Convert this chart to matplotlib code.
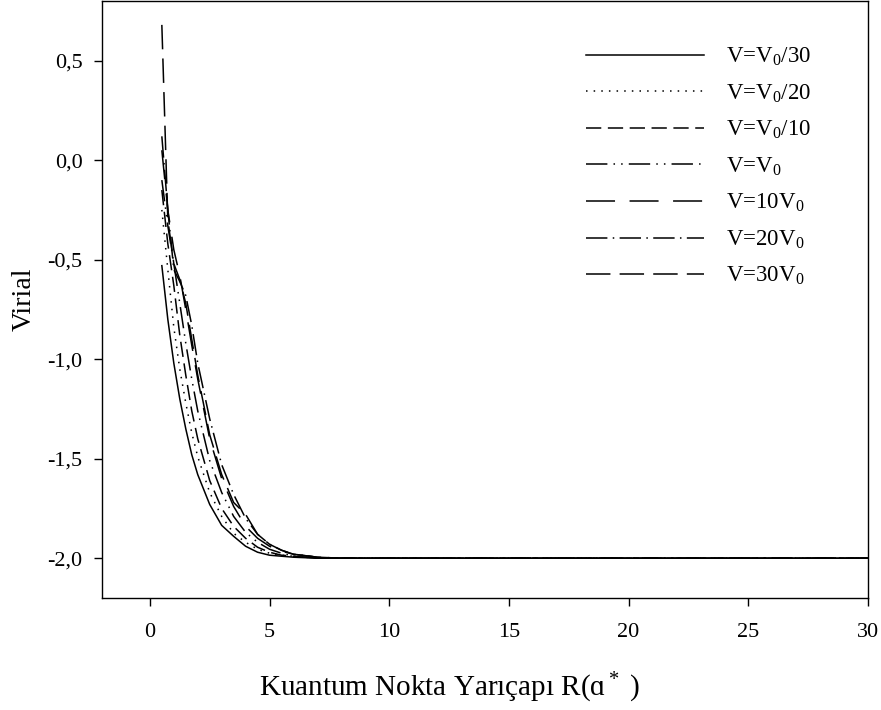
import matplotlib
matplotlib.use('Agg')
import matplotlib.pyplot as plt
import numpy as np

plt.rcParams['font.family'] = ['Liberation Serif', 'DejaVu Sans']
plt.rcParams['mathtext.fontset'] = 'custom'
plt.rcParams['mathtext.rm'] = 'Liberation Serif'
plt.rcParams['mathtext.it'] = 'Liberation Serif:italic'

# radius R (a*) and virial values
r_a = [0.5, 0.75, 1.0, 1.25, 1.5, 1.75, 2.0, 2.5, 3.0, 3.5, 4.0, 4.5, 5.0, 5.5, 6.0, 7.0, 8.0, 10, 15, 20, 25, 30]
v_30th = [-0.53, -0.80, -1.02, -1.20, -1.35, -1.48, -1.58, -1.73, -1.835, -1.89, -1.94, -1.97, -1.985, -1.99, -1.995, -2.0, -2.0, -2.0, -2.0, -2.0, -2.0, -2.0]
v_20th = [-0.25, -0.55, -0.84, -1.05, -1.22, -1.37, -1.49, -1.67, -1.79, -1.875, -1.92, -1.955, -1.975, -1.985, -1.99, -1.998, -2.0, -2.0, -2.0, -2.0, -2.0, -2.0]
v_10th = [-0.15, -0.42, -0.63, -0.88, -1.08, -1.26, -1.40, -1.61, -1.75, -1.84, -1.90, -1.945, -1.97, -1.985, -1.99, -2.0, -2.0, -2.0, -2.0, -2.0, -2.0, -2.0]
v_1 = [-0.10, -0.33, -0.52, -0.72, -0.92, -1.10, -1.26, -1.51, -1.67, -1.79, -1.87, -1.92, -1.955, -1.975, -1.99, -2.0, -2.0, -2.0, -2.0, -2.0, -2.0, -2.0]
v_10 = [0.05, -0.25, -0.45, -0.58, -0.75, -0.93, -1.10, -1.40, -1.60, -1.74, -1.84, -1.90, -1.94, -1.965, -1.98, -1.995, -2.0, -2.0, -2.0, -2.0, -2.0, -2.0]
v_20 = [0.12, -0.25, -0.55, -0.61, -0.68, -0.83, -1.02, -1.30, -1.53, -1.68, -1.80, -1.88, -1.93, -1.96, -1.98, -1.995, -2.0, -2.0, -2.0, -2.0, -2.0, -2.0]
v_30 = [0.68, -0.30, -0.52, -0.60, -0.72, -0.90, -1.08, -1.38, -1.58, -1.72, -1.78, -1.88, -1.93, -1.96, -1.98, -1.995, -2.0, -2.0, -2.0, -2.0, -2.0, -2.0]

labels = ['V=V$_0$/30', 'V=V$_0$/20', 'V=V$_0$/10', 'V=V$_0$', 'V=10V$_0$', 'V=20V$_0$', 'V=30V$_0$']
series = [v_30th, v_20th, v_10th, v_1, v_10, v_20, v_30]
styles = ['-', (0, (1, 4)), (0, (10, 4.3)), (0, (14, 4, 1, 4, 1, 4)),
          (0, (19, 9.5)), (0, (14, 3.5, 1, 3.5)), (0, (16, 6))]

xticks = [0, 5, 10, 15, 20, 25, 30]
yticks = [-2.0, -1.5, -1.0, -0.5, 0.0, 0.5]
ytick_labels = ['-2,0', '-1,5', '-1,0', '-0,5', '0,0', '0,5']

fig = plt.figure(figsize=(8.81, 7.10), dpi=100)
ax = fig.add_axes([102/881, 112/710, 766/881, 597/710])

for y, lab, ls in zip(series, labels, styles):
    ax.plot(r_a, y, color='black', linewidth=1.1, linestyle=ls, label=lab)

ax.set_xlim(-2, 30)
ax.set_ylim(-2.2, 0.8)
ax.set_xticks(xticks)
ax.set_xticklabels([str(t) for t in xticks])
ax.set_yticks(yticks)
ax.set_yticklabels(ytick_labels)
ax.tick_params(axis='x', direction='out', length=6, width=1, pad=12, labelsize=16)
ax.tick_params(axis='y', direction='out', length=6, width=1, pad=8, labelsize=16)
for s in ax.spines.values():
    s.set_linewidth(1.0)

ax.set_xlabel('Kuantum Nokta Yarıçapı R(ɑ$^*$ )', fontsize=21)
ax.xaxis.set_label_coords(0.453, -0.122)
ax.set_ylabel('Virial', fontsize=20)
ax.yaxis.set_label_coords(-0.085, 0.5)

ax.legend(loc='upper left', bbox_to_anchor=(0.62, 0.94), frameon=False, fontsize=16.5,
          handlelength=5.15, handletextpad=0.96, labelspacing=0.62, borderaxespad=0)

fig.savefig('out.png', dpi=100)
